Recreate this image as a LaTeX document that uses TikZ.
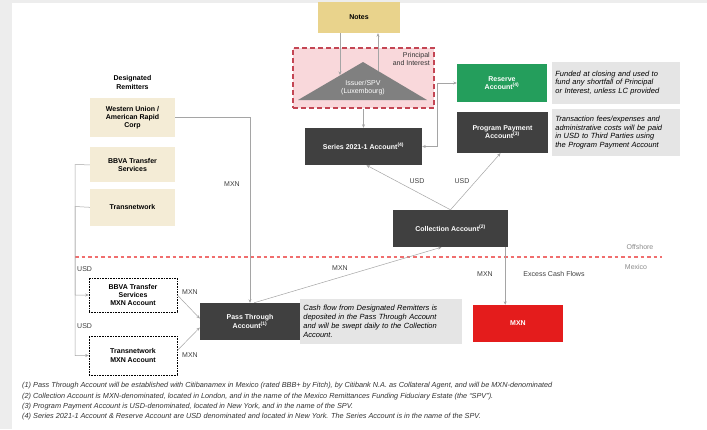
\documentclass[tikz,border=0pt]{standalone}
\usepackage{fontspec}
\setmainfont{Liberation Sans}
\usepackage{tikz}
\usetikzlibrary{positioning,arrows.meta}
\definecolor{notegold}{RGB}{233,211,140}
\definecolor{remitbg}{RGB}{244,236,214}
\definecolor{spvpink}{RGB}{249,216,219}
\definecolor{spvred}{RGB}{196,70,84}
\definecolor{trigray}{RGB}{128,128,128}
\definecolor{acctdark}{RGB}{64,64,64}
\definecolor{resgreen}{RGB}{36,158,92}
\definecolor{descgray}{RGB}{229,229,229}
\definecolor{excessred}{RGB}{228,28,28}
\definecolor{linegray}{RGB}{165,165,165}
\definecolor{divred}{RGB}{240,110,110}

\begin{document}
\begin{tikzpicture}[x=1pt, y=-1pt, >={Stealth[length=3.5pt,width=3pt]},
					every node/.style={font=\fontsize{7}{8.2}\selectfont, inner sep=1pt},
					acctbox/.style={fill=acctdark, text=white, align=center, font=\fontsize{7}{8.2}\selectfont\bfseries, minimum height=37pt},
					remitbox/.style={fill=remitbg, align=center, font=\fontsize{7}{8.2}\selectfont\bfseries, minimum width=85pt},
					mxnacct/.style={draw, densely dotted, line width=0.6pt, align=center, font=\fontsize{7}{8.2}\selectfont\bfseries, minimum width=88pt},
					descbox/.style={fill=descgray, align=left, inner sep=3pt, font=\fontsize{7.5}{8.8}\selectfont\itshape},
					flow/.style={draw=linegray, line width=0.5pt},
					lbl/.style={text=black!75},
					footnote/.style={anchor=west, text=black!80, font=\fontsize{7.3}{8.5}\selectfont\itshape}]
					% frame
					\fill[black!7] (0,0) rectangle (707,429);
					\fill[white] (12,3) rectangle (707,429);
					\useasboundingbox (0,0) rectangle (707,429);

					% issuer side
					\node[fill=notegold, font=\fontsize{7}{8.2}\selectfont\bfseries, minimum width=82pt, minimum height=31pt] (notes) at (359,17.5) {Notes};
					\node[fill=spvpink, draw=spvred, line width=1.3pt, dash pattern=on 5pt off 3pt, minimum width=141pt, minimum height=60pt] (issuer) at (363.5,78) {};
					\fill[trigray] (298,100) -- (363,62) -- (427,100) -- cycle;
					\node[text=white, align=center] (spv) at (363,88) {Issuer/SPV\\(Luxembourg)};
					\node[anchor=north east, align=right, text=black!80] (pilbl) at (431,51) {Principal\\and Interest};
					\coordinate (proceeds) at (340,75);
					\coordinate (payback) at (378,71);
					\draw[flow, ->] (notes.south -| proceeds) -- (proceeds);
					\draw[flow, ->] (payback) -- (notes.south -| payback);

					\node[acctbox, minimum width=117pt] (series) at (363.5,146.5) {Series 2021-1 Account\textsuperscript{(4)}};
					\draw[flow, ->] (issuer.south) -- (series.north);

					\node[acctbox, fill=resgreen, minimum width=90pt, minimum height=38pt] (reserve) at (502,83) {Reserve\\Account\textsuperscript{(4)}};
					\node[descbox, right=5pt of reserve, minimum height=42pt, text width=122pt] (resdesc) {Funded at closing and used to\\fund any shortfall of Principal\\or Interest, unless LC provided};
					\node[acctbox, minimum width=91pt, minimum height=41pt] (ppa) at (502.5,132.5) {Program Payment\\Account\textsuperscript{(3)}};
					\node[descbox, right=4pt of ppa, minimum height=47pt, text width=122pt] (ppadesc) {Transaction fees/expenses and\\administrative costs will be paid\\in USD to Third Parties using\\the Program Payment Account};
					\coordinate (split) at (437,83);
					\draw[flow, <->] (series.east) -| (split) -- (reserve.west);

					\node[acctbox, minimum width=115pt] (coll) at (450.5,228.5) {Collection Account\textsuperscript{(2)}};
					\draw[flow, <-] ([xshift=3pt]series.south) -- (coll.north);
					\draw[flow, <-] ([xshift=-2pt]ppa.south) -- (coll.north);
					\node[lbl] (usdA) at (417,181) {USD};
					\node[lbl] (usdB) at (462,181) {USD};

					% offshore / mexico
					\coordinate (divL) at (75,257);
					\coordinate (divR) at (662,257);
					\draw[divred, line width=1.2pt, dash pattern=on 3.5pt off 3pt] (divL) -- (divR);
					\node[text=black!45] (offshore) at (640,247) {Offshore};
					\node[text=black!45] (mexico) at (636,267) {Mexico};

					\node[acctbox, minimum width=100pt] (pass) at (250,321.5) {Pass Through\\Account\textsuperscript{(1)}};
					\node[descbox, right=0pt of pass, minimum height=45pt, text width=156pt] (passdesc) {Cash flow from Designated Remitters is\\deposited in the Pass Through Account\\and will be swept daily to the Collection\\Account.};
					\draw[flow, ->] ([xshift=4pt]pass.north) -- ([xshift=-9pt]coll.south);
					\node[lbl] (mxnA) at (340,268) {MXN};

					\node[fill=excessred, text=white, font=\fontsize{7}{8.2}\selectfont\bfseries, minimum width=90pt, minimum height=37pt] (excess) at (518,323.5) {MXN};
					\draw[flow, ->] ([xshift=-3pt]coll.south east) -- ([xshift=-3pt]coll.south east |- excess.north);
					\node[lbl] (mxnB) at (485,274) {MXN};
					\node[lbl] (excesslbl) at (554,274) {Excess Cash Flows};

					% designated remitters
					\node[font=\fontsize{7}{8.2}\selectfont\bfseries, align=center] (remitters) at (132.5,82.5) {Designated\\Remitters};
					\node[remitbox, minimum height=39pt] (wu) at (132.5,117.5) {Western Union /\\American Rapid\\Corp};
					\node[remitbox, minimum height=35pt, below=10pt of wu] (bbva) {BBVA Transfer\\Services};
					\node[remitbox, minimum height=37pt, below=6pt of bbva] (trans) {Transnetwork};
					\draw[flow, ->] (wu.east) -| (pass.north);
					\node[lbl] (mxnC) at (232,184) {MXN};

					\node[mxnacct, minimum height=34pt] (bbvamxn) at (133,295) {BBVA Transfer\\Services\\MXN Account};
					\node[mxnacct, minimum height=39pt] (transmxn) at (133,355.5) {Transnetwork\\MXN Account};
					\coordinate (bendA) at (75,164.5);
					\coordinate (bendB) at (75,206.5);
					\draw[flow, ->] (bbva.west) -- (bendA) |- (bbvamxn.west);
					\draw[flow, ->] (trans.west) -- (bendB) |- (transmxn.west);
					\node[lbl, anchor=west] (usdC) at (76,269) {USD};
					\node[lbl, anchor=west] (usdD) at (76,326) {USD};
					\draw[flow, ->] (bbvamxn.east) -- ([yshift=3pt]pass.west);
					\draw[flow, ->] ([yshift=5pt]transmxn.east) -- ([yshift=-6pt]pass.west);
					\node[lbl] (mxnD) at (190,292) {MXN};
					\node[lbl] (mxnE) at (190,355) {MXN};

					% footnotes
					\node[footnote] (fnA) at (21,386) {(1) Pass Through Account will be established with Citibanamex in Mexico (rated BBB+ by Fitch), by Citibank N.A. as Collateral Agent, and will be MXN-denominated};
					\node[footnote] (fnB) at (21,396.5) {(2) Collection Account is MXN-denominated, located in London, and in the name of the Mexico Remittances Funding Fiduciary Estate (the ``SPV'').};
					\node[footnote] (fnC) at (21,406.5) {(3) Program Payment Account is USD-denominated, located in New York, and in the name of the SPV.};
					\node[footnote] (fnD) at (21,417) {(4) Series 2021-1 Account \& Reserve Account are USD denominated and located in New York. The Series Account is in the name of the SPV.};
				\end{tikzpicture}
\end{document}
